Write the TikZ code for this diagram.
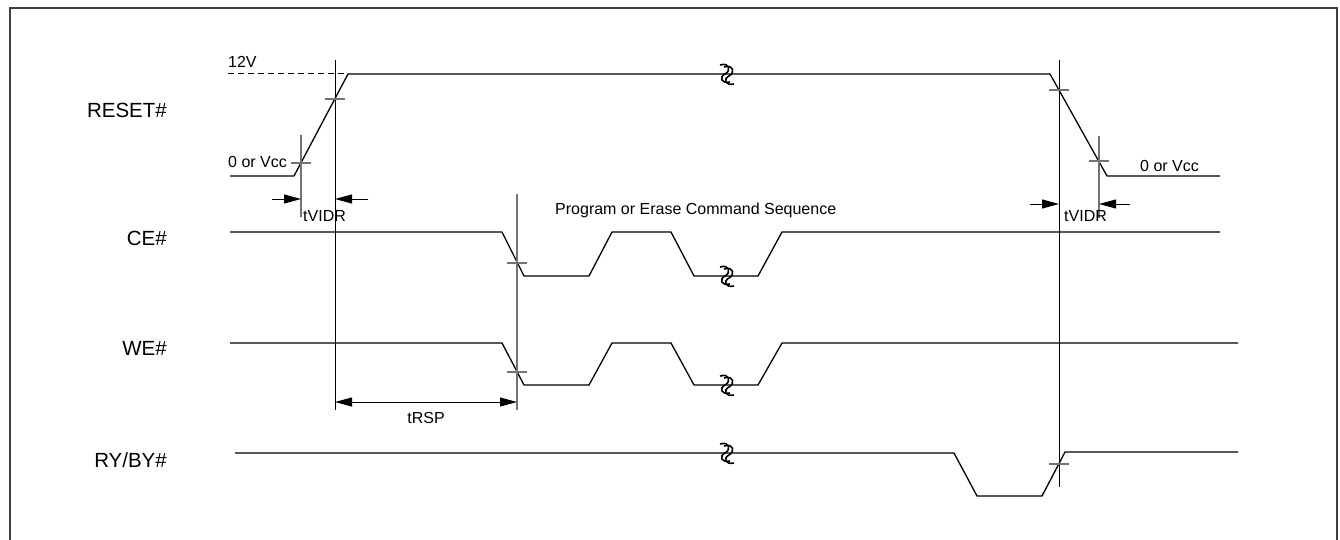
\documentclass[tikz,border=0pt]{standalone}
\usepackage{fontspec}
\setmainfont{Liberation Sans}
\usetikzlibrary{arrows.meta,positioning}

\tikzset{
  sig/.style={black,line width=1.3pt},
  guide/.style={black,line width=1pt},
  guidegray/.style={black!55,line width=1.3pt},
  tickmark/.style={black!55,line width=1.3pt},
  tip/.tip={Triangle[length=17pt,width=9pt]},
  dim/.style={black,line width=1pt,-tip},
  lbl/.style={font=\fontsize{20.5}{22}\selectfont,inner sep=0pt},
  note/.style={font=\fontsize{16}{18}\selectfont,inner sep=0pt},
  brk/.pic={
    \draw[black,line width=1.6pt] (-5,-9) .. controls (5,-12) and (6,-3) .. (0,0) .. controls (-6,3) and (-4,10) .. (5,8);
    \draw[black,line width=1.6pt] (-1,-7) .. controls (9,-10) and (10,-1) .. (4,2) .. controls (-2,5) and (0,12) .. (9,10);
  }
}

\begin{document}
\begin{tikzpicture}[x=1pt,y=-1pt]
\useasboundingbox (0,0) rectangle (1340,540);
% frame
\draw[black!75,line width=2pt] (10,560) -- (10,8) -- (1337,8) -- (1337,560);

% signal names
\node[lbl,anchor=east] (reset) at (167,110) {RESET\#};
\node[lbl,anchor=east] (ce) at (167,238) {CE\#};
\node[lbl,anchor=east] (we) at (167,348) {WE\#};
\node[lbl,anchor=east] (ry) at (167,460) {RY/BY\#};

% waveforms
\draw[sig] (230,176) -- (294,176) -- (348,74) -- (1050,74) -- (1107,176) -- (1220,176);
\draw[sig,dash pattern=on 6pt off 4pt,line width=1pt] (228,74) -- (345,74);
\draw[sig] (230,232) -- (502,232) -- (524,276) -- (589,276) -- (612,232) -- (671,232)
  -- (694,276) -- (758,276) -- (782,232) -- (1220,232);
\draw[sig] (230,343) -- (502,343) -- (524,385) -- (589,385) -- (612,343) -- (671,343)
  -- (694,385) -- (758,385) -- (782,343) -- (1238,343);
\draw[sig] (235,453) -- (954,453) -- (977,496) -- (1042,496) -- (1065,452) -- (1238,452);

% breaks
\pic at (725,74) {brk};
\pic at (725,276) {brk};
\pic at (725,385) {brk};
\pic at (725,453) {brk};

% timing guides
\draw[guide] (335,60) -- (335,410);
\draw[guidegray] (301,135) -- (301,217);
\draw[guidegray] (517,194) -- (517,410);
\draw[guide] (1059,60) -- (1059,487);
\draw[guidegray] (1099,136) -- (1099,218);

% crossing ticks
\foreach \x/\y in {335/99,301/163,517/263,517/372,1059/90,1099/161,1059/464}
  \draw[tickmark] (\x-10,\y) -- (\x+10,\y);

% dimensions
\coordinate (a1) at (272,199);
\coordinate (a2) at (368,199);
\draw[dim] (a1) -- (301,199);
\draw[dim] (a2) -- (335,199);
\coordinate (b1) at (1030,204);
\coordinate (b2) at (1130,204);
\draw[dim] (b1) -- (1059,204);
\draw[dim] (b2) -- (1099,204);
\draw[dim,tip-tip] (335,402) -- (517,402);

% notes
\node[note,anchor=west] (vhi) at (228,62) {12V};
\node[note,anchor=west] (vlo1) at (228,162) {0 or Vcc};
\node[note,anchor=west] (vlo2) at (1140,166) {0 or Vcc};
\node[note,anchor=west] (tv1) at (303,216) {tVIDR};
\node[note,anchor=west] (tv2) at (1064,216) {tVIDR};
\node[note,anchor=west] (seq) at (555,210) {Program or Erase Command Sequence};
\node[note] (trsp) at (426,418) {tRSP};
\end{tikzpicture}
\end{document}
